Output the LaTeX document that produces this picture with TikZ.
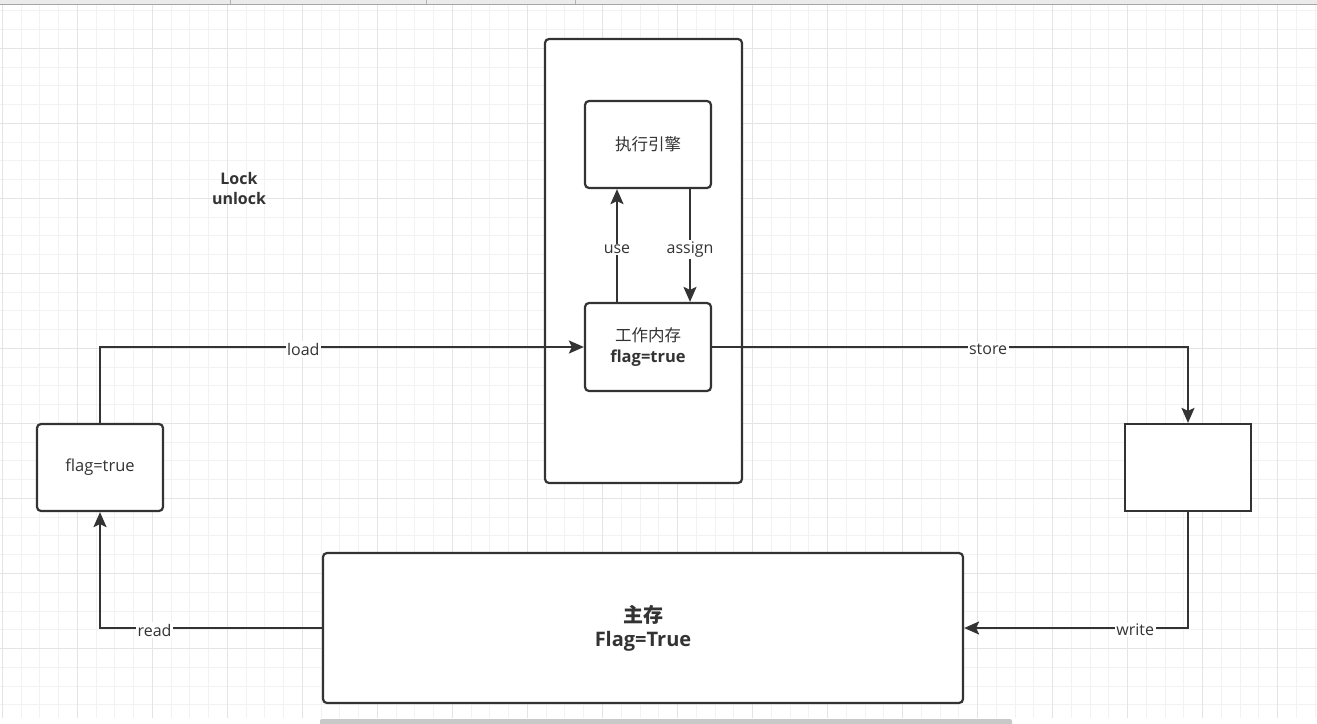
\documentclass[tikz,border=0pt]{standalone}
\usepackage{fontspec}
\setmainfont{Open Sans}
\newfontfamily\cjk{Noto Sans CJK SC}
\usetikzlibrary{arrows.meta}
\definecolor{ink}{HTML}{333333}
\definecolor{gridminor}{HTML}{F2F2F2}
\definecolor{gridmajor}{HTML}{E4E4E4}
\definecolor{topbar}{HTML}{EBEBEB}
\definecolor{scrollc}{HTML}{C8C8C8}
\begin{document}
\begin{tikzpicture}[x=1pt,y=-1pt,
  box/.style={draw=ink, line width=2.2pt, rounded corners=4pt, fill=white,
    minimum width=126pt, minimum height=87pt, inner sep=0pt, text=ink,
    align=center, font=\fontsize{16.5}{20}\selectfont},
  conn/.style={draw=ink, line width=2.2pt, -{Stealth[length=15pt,width=13pt,inset=3pt]}},
  lbl/.style={fill=white, text=ink, inner sep=1.5pt, yshift=-2pt, font=\fontsize{16}{19}\selectfont}]
\useasboundingbox (0,0) rectangle (1317,723);
\fill[white] (0,0) rectangle (1317,723);
% grid
\foreach \i in {0,...,70} \draw[gridminor, line width=1pt] ({2.3+18.756*\i},5) -- ({2.3+18.756*\i},718);
\foreach \j in {0,...,37} \draw[gridminor, line width=1pt] (0,{10.8+18.756*\j}) -- (1317,{10.8+18.756*\j});
\foreach \i in {0,...,17} \draw[gridmajor, line width=1pt] ({2.3+75.024*\i},5) -- ({2.3+75.024*\i},718);
\foreach \j in {0,...,8} \draw[gridmajor, line width=1pt] (0,{48.3+75.024*\j}) -- (1317,{48.3+75.024*\j});
% window chrome
\fill[topbar] (0,0) rectangle (1317,4);
\draw[gray!70, line width=1pt] (0,4.5) -- (1317,4.5);
\foreach \x in {230,426,575} \draw[gray!60, line width=1pt] (\x,0) -- (\x,4);
\fill[scrollc, rounded corners=2pt] (320,719) rectangle (1012,726);

% nodes
\node[box, minimum width=197pt, minimum height=444pt] (cont) at (643.5,261) {};
\node[box] (eng) at (648,144.5) {\cjk 执行引擎};
\node[box, minimum height=88pt] (wm) at (648,347) {{\cjk 工作内存}\\[1pt]\textbf{flag=true}};
\node[box] (left) at (100,467.5) {flag=true};
\node[box, rounded corners=0pt] (rbox) at (1188,467.5) {};
\node[box, minimum width=640pt, minimum height=150pt, font=\bfseries\fontsize{20}{24}\selectfont] (main) at (643,628) {{\cjk\bfseries 主存}\\Flag=True};
\node[text=ink, align=center, font=\bfseries\fontsize{16}{20}\selectfont] (lock) at (239,188) {Lock\\unlock};

% connectors
\draw[conn] (left.north) |- node[lbl, pos=0.71] {load} (wm.west);
\draw[conn] (wm.east) -| node[lbl, pos=0.29] {store} (rbox.north);
\draw[conn] (rbox.south) |- node[lbl, pos=0.618] {write} (main.east);
\draw[conn] (main.west) -| node[lbl, pos=0.377] {read} (left.south);
\draw[conn] ([xshift=-31pt]wm.north) -- node[lbl, yshift=-2pt] {use} ([xshift=-31pt]eng.south);
\draw[conn] ([xshift=42pt]eng.south) -- node[lbl, yshift=-2pt] {assign} ([xshift=42pt]wm.north);
\end{tikzpicture}
\end{document}
